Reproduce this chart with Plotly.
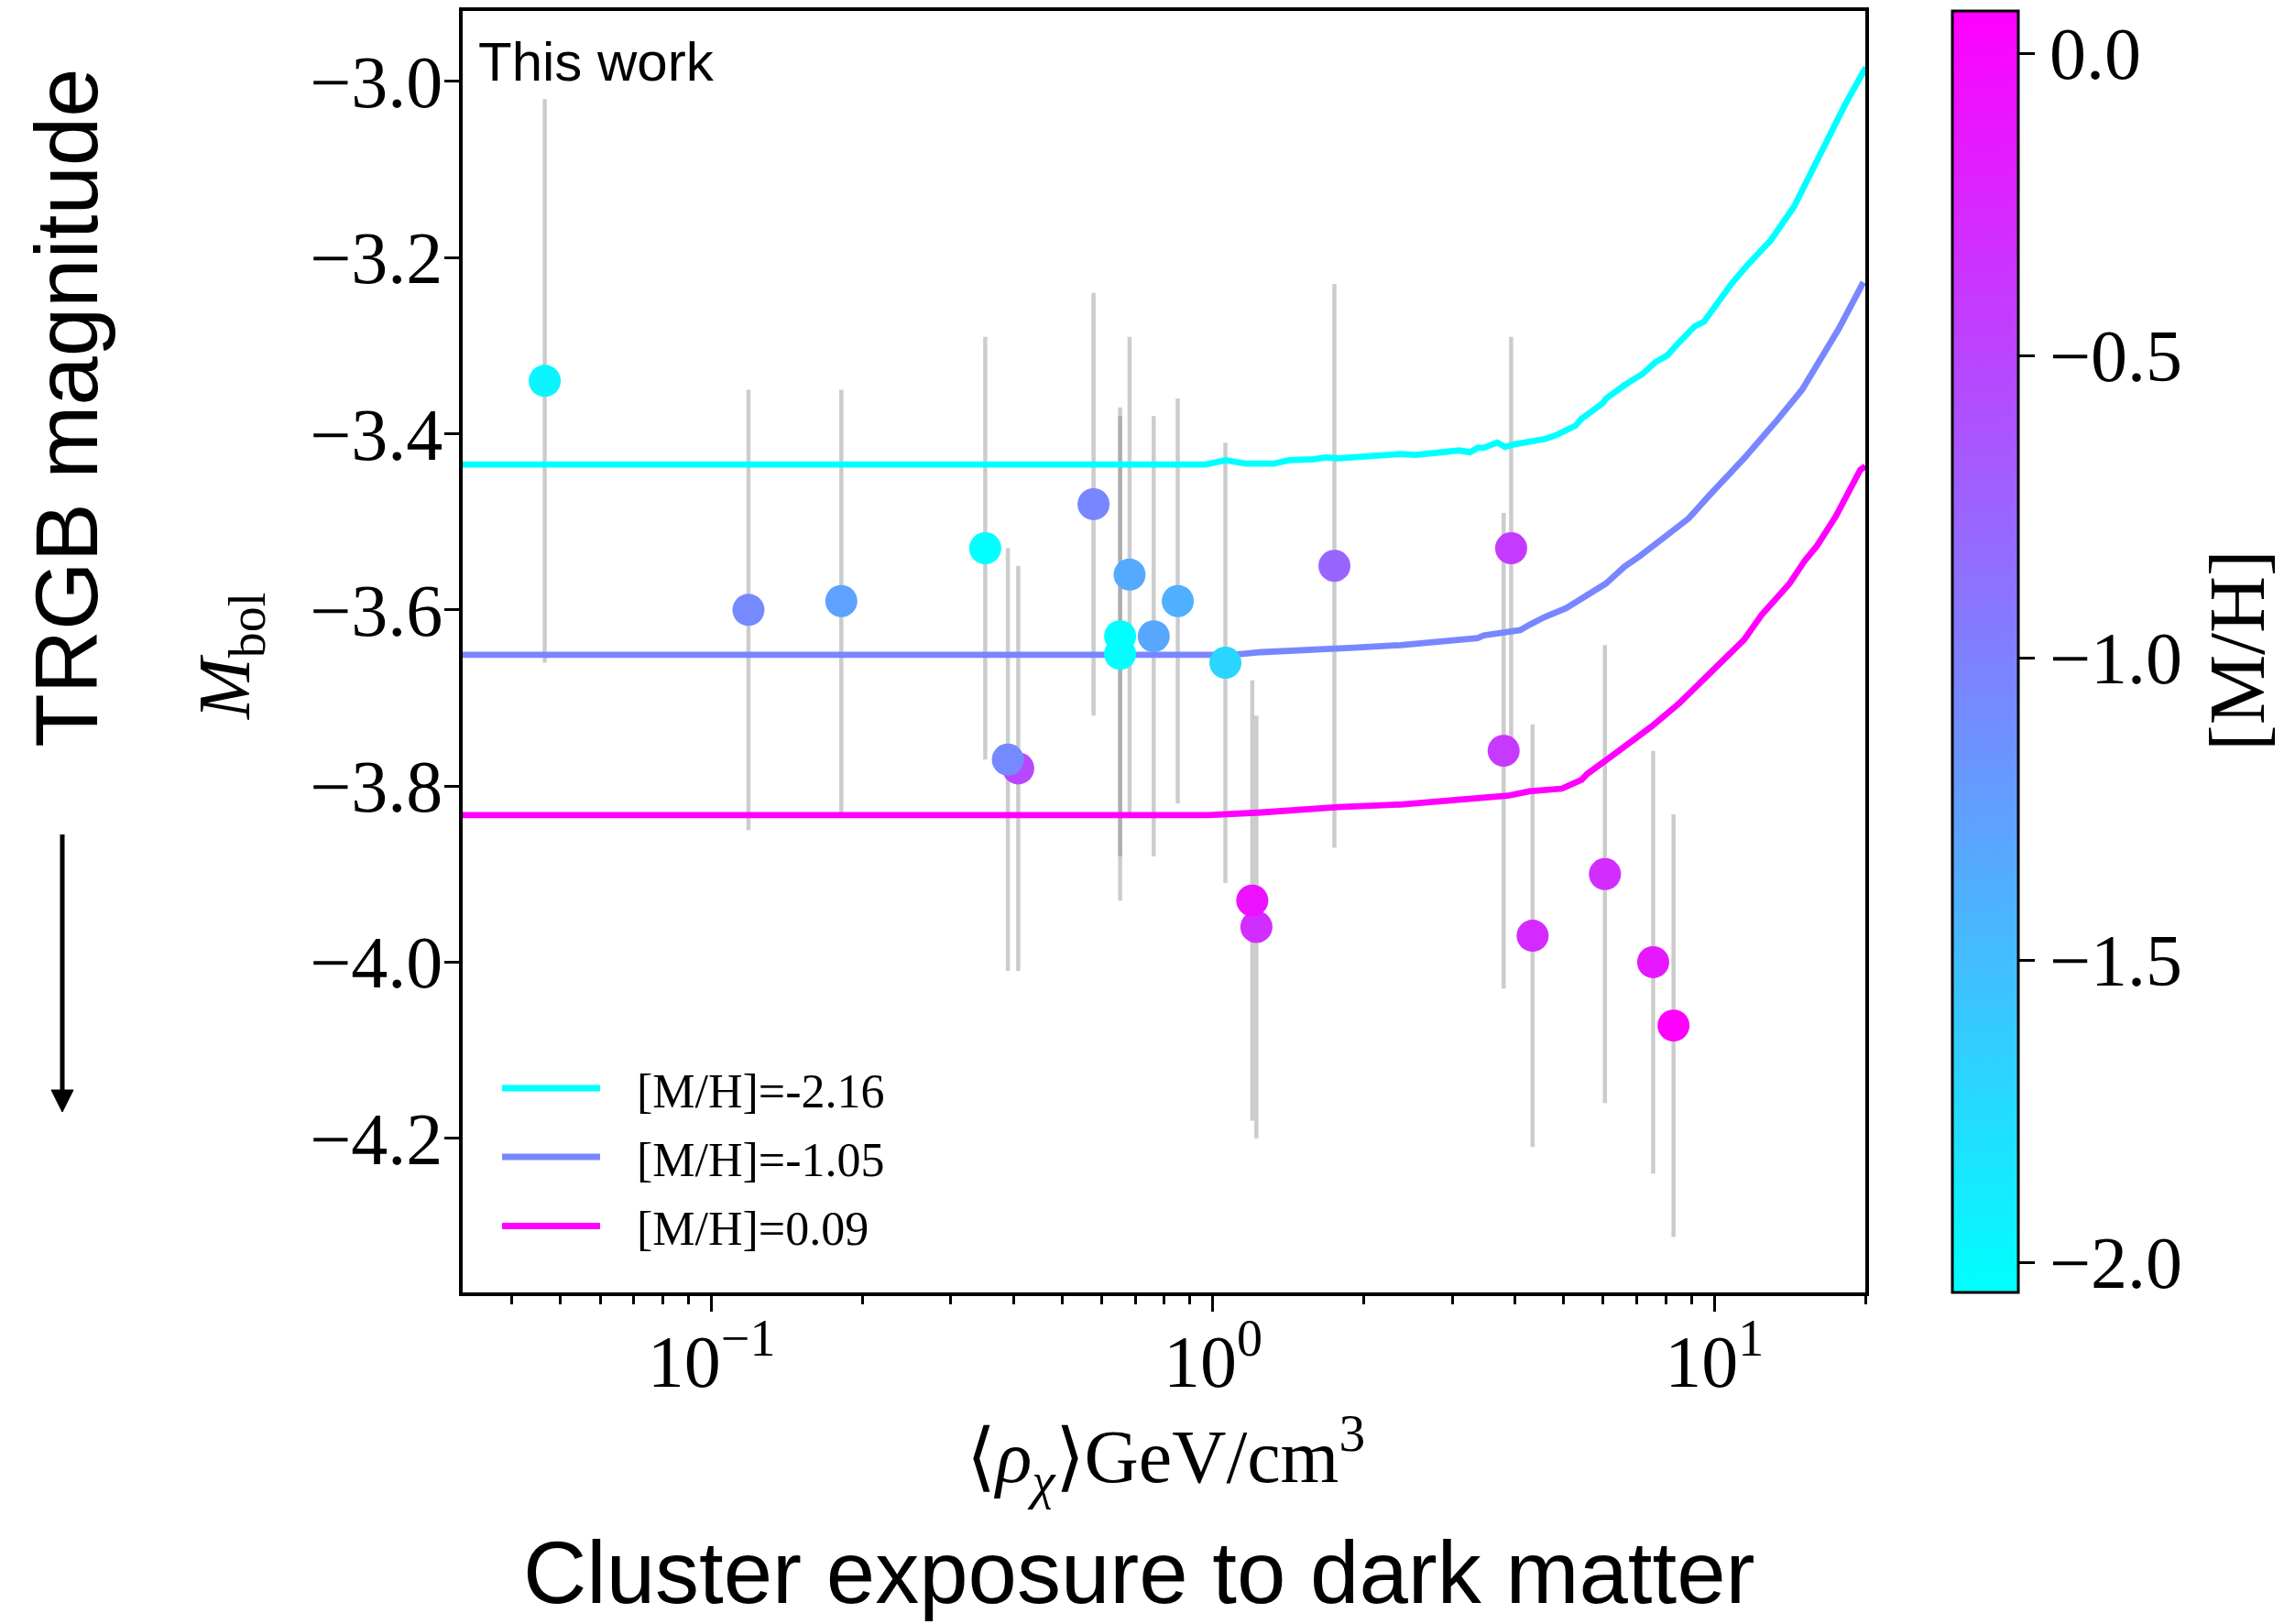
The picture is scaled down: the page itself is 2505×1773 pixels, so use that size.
import math
import plotly.graph_objects as go

# ---- Globular clusters: mean dark-matter density seen, TRGB magnitude, metallicity ----
rho_dm = [0.0465, 0.1185, 0.1815, 0.3515, 0.578, 0.682, 0.653, 0.653, 0.762, 0.851,
          1.059, 0.409, 0.390, 1.221, 1.198, 1.747, 3.933, 3.80, 4.34, 6.05, 7.55, 8.29]
m_bol = [-3.34, -3.60, -3.59, -3.53, -3.48, -3.56, -3.63, -3.65, -3.63, -3.59,
         -3.66, -3.78, -3.77, -3.96, -3.93, -3.55, -3.53, -3.76, -3.97, -3.90, -4.00, -4.072]
m_bol_err = [0.32, 0.25, 0.24, 0.24, 0.24, 0.27, 0.25, 0.28, 0.25, 0.23,
             0.25, 0.23, 0.24, 0.24, 0.25, 0.32, 0.24, 0.27, 0.24, 0.26, 0.24, 0.24]
metallicity = [-1.97, -1.08, -1.28, -2.05, -1.05, -1.34, -2.05, -2.05, -1.31, -1.39,
               -1.70, -0.52, -1.08, -0.30, -0.07, -0.77, -0.41, -0.40, -0.28, -0.30, -0.13, 0.07]

# ---- Model tracks of the TRGB magnitude against dark-matter density ----
track_feh = [-2.16, -1.05, 0.09]
track_labels = ["[M/H]=-2.16", "[M/H]=-1.05", "[M/H]=0.09"]

track1_rho = [0.03, 0.967, 1.06, 1.162, 1.321, 1.419, 1.589, 1.683, 1.780, 2.051, 2.366,
              2.541, 2.931, 3.097, 3.258, 3.373, 3.467, 3.690, 3.823, 3.990, 4.592, 4.819,
              5.284, 5.433, 5.998, 6.081, 6.616, 7.194, 7.614, 8.054, 8.511, 9.141, 9.528,
              10.08, 10.81, 11.66, 12.97, 14.42, 16.37, 18.20, 20.04]
track1_mbol = [-3.435, -3.435, -3.430, -3.434, -3.434, -3.430, -3.429, -3.427, -3.428, -3.426,
               -3.423, -3.424, -3.421, -3.419, -3.421, -3.416, -3.416, -3.410, -3.415, -3.412,
               -3.406, -3.402, -3.391, -3.383, -3.365, -3.360, -3.345, -3.332, -3.319, -3.311,
               -3.296, -3.278, -3.273, -3.254, -3.230, -3.208, -3.180, -3.142, -3.079, -3.027,
               -2.984]

track2_rho = [0.03, 1.099, 1.249, 1.544, 1.910, 2.366, 2.928, 3.373, 3.467, 4.102, 4.276,
              4.592, 5.064, 5.662, 6.081, 6.616, 7.096, 8.054, 8.892, 9.808, 11.46, 13.37,
              14.96, 17.70, 19.82]
track2_mbol = [-3.651, -3.651, -3.648, -3.646, -3.643, -3.640, -3.636, -3.632, -3.629, -3.623,
               -3.617, -3.608, -3.598, -3.582, -3.570, -3.551, -3.539, -3.515, -3.496, -3.469,
               -3.428, -3.384, -3.350, -3.281, -3.228]

track3_rho = [0.03, 0.98, 1.249, 1.544, 1.780, 2.366, 2.928, 3.424, 3.467, 3.877, 4.276,
              4.962, 5.433, 5.585, 6.31, 7.508, 8.511, 9.528, 11.46, 12.45, 14.13, 15.15,
              16.03, 17.46, 19.54, 20.0]
track3_mbol = [-3.833, -3.833, -3.830, -3.826, -3.824, -3.821, -3.817, -3.813, -3.814, -3.811,
               -3.806, -3.803, -3.793, -3.786, -3.764, -3.732, -3.706, -3.679, -3.634, -3.605,
               -3.570, -3.544, -3.527, -3.494, -3.441, -3.437]

track_rho = [track1_rho, track2_rho, track3_rho]
track_mbol = [track1_mbol, track2_mbol, track3_mbol]

y_ticks = [-4.2, -4.0, -3.8, -3.6, -3.4, -3.2, -3.0]
x_ticks = [0.1, 1, 10]
x_ticktext = ["10<sup>\u22121</sup>", "10<sup>0</sup>", "10<sup>1</sup>"]
x_minor = [k * 10.0 ** e for e in (-2, -1, 0, 1) for k in range(2, 10)]
cbar_ticks = [-2.0, -1.5, -1.0, -0.5, 0.0]

# ---- page geometry (pixels) ----
W, H = 2505, 1773
L, R, T, B = 505, 2036, 12, 1411


def px(x):
    return (x - L) / (R - L)


def py(y):
    return (B - y) / (B - T)


CMIN, CMAX = -2.05, 0.07


def cool(v):
    t = min(max((v - CMIN) / (CMAX - CMIN), 0.0), 1.0)
    return f"rgb({round(255 * t)},{round(255 * (1 - t))},255)"


def minus(v, fmt="{:.1f}"):
    return fmt.format(v).replace("-", "\u2212")


SERIF = "Liberation Serif"
SANS = "Liberation Sans"

fig = go.Figure()

# error bars underneath everything
fig.add_trace(go.Scatter(
    x=rho_dm, y=m_bol, mode="markers",
    marker=dict(size=2, opacity=0),
    error_y=dict(type="data", array=m_bol_err, color="rgba(128,128,128,0.4)",
                 thickness=4.5, width=0),
    hoverinfo="skip", showlegend=False))

# model tracks
for feh, xs, ys, lab in zip(track_feh, track_rho, track_mbol, track_labels):
    fig.add_trace(go.Scatter(x=xs, y=ys, mode="lines", name=lab,
                             line=dict(color=cool(feh), width=6.8), showlegend=False))

# clusters coloured by metallicity
fig.add_trace(go.Scatter(
    x=rho_dm, y=m_bol, mode="markers", showlegend=False,
    marker=dict(size=35, color=metallicity, cmin=CMIN, cmax=CMAX,
                colorscale=[[0, "#00FFFF"], [1, "#FF00FF"]], line=dict(width=0),
                colorbar=dict(thickness=72, thicknessmode="pixels", len=1, lenmode="fraction",
                              x=px(2131), xanchor="left", y=0.5, yanchor="middle",
                              xpad=0, ypad=0, outlinewidth=3, outlinecolor="black",
                              tickmode="array", tickvals=cbar_ticks,
                              ticktext=[minus(v) for v in cbar_ticks],
                              ticks="outside", ticklen=17, tickwidth=3, tickcolor="black",
                              tickfont=dict(family=SERIF, size=80, color="black")))))

axis_common = dict(showline=True, linewidth=3.5, linecolor="black", mirror=True,
                   ticks="outside", tickwidth=3, tickcolor="black", showgrid=False,
                   zeroline=False, tickfont=dict(family=SERIF, size=80, color="black"))

fig.update_xaxes(type="log", range=[math.log10(0.0319), math.log10(20.0)],
                 tickmode="array", tickvals=x_ticks, ticktext=x_ticktext, ticklen=17,
                 ticklabelstandoff=-14,
                 minor=dict(tickmode="array", tickvals=x_minor, ticks="outside",
                            ticklen=9, tickwidth=2.5, tickcolor="black"),
                 **axis_common)
fig.update_yaxes(range=[-4.375, -2.92], tickmode="array", tickvals=y_ticks,
                 ticktext=[minus(v) for v in y_ticks], ticklen=16,
                 ticklabelstandoff=-14, **axis_common)

shapes = []
annotations = []

# legend drawn by hand so the sample lines can be long
legend_rows = [1188, 1263, 1338.5]
for feh, lab, ry in zip(track_feh, track_labels, legend_rows):
    shapes.append(dict(type="line", xref="paper", yref="paper",
                       x0=px(548), x1=px(655), y0=py(ry), y1=py(ry),
                       line=dict(color=cool(feh), width=6.8)))
    annotations.append(dict(text=lab, xref="paper", yref="paper", x=px(693), y=py(ry + 3),
                            xanchor="left", yanchor="middle", showarrow=False,
                            font=dict(family=SERIF, size=52, color="black")))

annotations += [
    dict(text="This work", xref="paper", yref="paper", x=px(520), y=py(67),
         xanchor="left", yanchor="middle", showarrow=False,
         font=dict(family=SANS, size=60, color="black")),
    dict(text="<i>M</i><sub>bol</sub>", xref="paper", yref="paper", x=px(251), y=py(717),
         xanchor="center", yanchor="middle", textangle=-90, showarrow=False,
         font=dict(family=SERIF, size=80, color="black")),
    dict(text="\u27e8<i>\u03c1</i><sub><i>\u03c7</i></sub>\u27e9GeV/cm<sup>3</sup>",
         xref="paper", yref="paper", x=px(1272), y=py(1590),
         xanchor="center", yanchor="middle", showarrow=False,
         font=dict(family=SERIF, size=82, color="black")),
    dict(text="[M/H]", xref="paper", yref="paper", x=px(2442), y=py(710),
         xanchor="center", yanchor="middle", textangle=-90, showarrow=False,
         font=dict(family=SERIF, size=86, color="black")),
    dict(text="TRGB magnitude", xref="paper", yref="paper", x=px(72), y=py(445),
         xanchor="center", yanchor="middle", textangle=-90, showarrow=False,
         font=dict(family=SANS, size=96, color="black")),
    dict(text="Cluster exposure to dark matter", xref="paper", yref="paper",
         x=px(1243), y=py(1717), xanchor="center", yanchor="middle", showarrow=False,
         font=dict(family=SANS, size=96, color="black")),
]

# downward arrow beside the magnitude label
shapes.append(dict(type="line", xref="paper", yref="paper", x0=px(68), x1=px(68),
                   y0=py(911), y1=py(1196), line=dict(color="black", width=5)))
shapes.append(dict(type="path", xref="paper", yref="paper",
                   path=(f"M {px(56)},{py(1190)} L {px(80)},{py(1190)} "
                         f"L {px(68)},{py(1214)} Z"),
                   fillcolor="black", line=dict(color="black", width=1)))

fig.update_layout(width=W, height=H,
                  margin=dict(l=L, r=W - R, t=T, b=H - B, autoexpand=False),
                  plot_bgcolor="white", paper_bgcolor="white", showlegend=False,
                  shapes=shapes, annotations=annotations)

fig.write_html("out.html")
